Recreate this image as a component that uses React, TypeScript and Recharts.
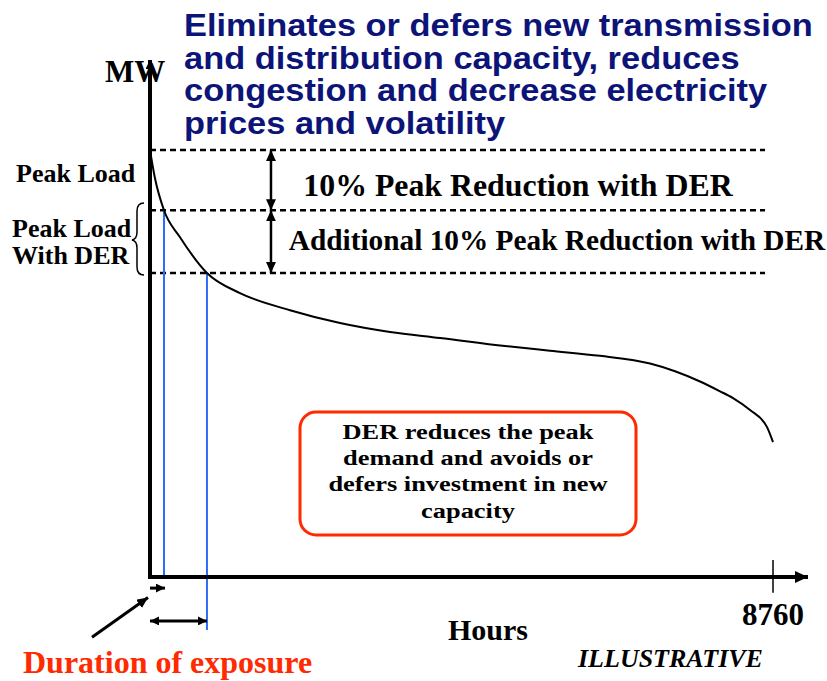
import React from "react";
import { LineChart, Line, XAxis, YAxis, ReferenceLine } from "recharts";

// ---- data (hours vs MW, illustrative load duration curve) ----
const hours = [0, 70, 197, 422, 801, 1265, 1969, 2672, 3375, 4078, 4992, 5624, 6327, 7031, 7382, 7734, 8015, 8198, 8437, 8676, 8760];
const loadMW = [100, 93.4, 85.9, 79.6, 71.2, 66.5, 62.5, 59.5, 57.4, 56.0, 54.1, 53.0, 51.8, 50.0, 48.2, 45.8, 43.5, 41.9, 39.1, 35.1, 31.6];
const levelMW = [100, 85.9, 71.2]; // peak load, peak with 10% DER, with additional 10%
const exposureHours = [197, 801];
const xTicks = [8760];
const titleLines = [
  "Eliminates or defers new transmission",
  "and distribution capacity, reduces",
  "congestion and decrease electricity",
  "prices and volatility",
];
const boxLines = ["DER reduces the peak", "demand and avoids or", "defers investment in new", "capacity"];

const X_MAX = 9252;
const Y_MAX = 121.1;
const DASH_END = 8648;
const ARROW_X = 1701;

const data = hours.map((h, i) => ({ h, mw: loadMW[i] }));

const SERIF = "'Liberation Serif', 'Times New Roman', serif";
const SANS = "'Liberation Sans', Arial, sans-serif";
const NAVY = "#0c1478";
const RED = "#ff2a00";
const BLUE = "#2d6cf5";

const seg = (mStart?: string, mEnd?: string) => (p: any) => (
  <line
    x1={p.x1}
    y1={p.y1}
    x2={p.x2}
    y2={p.y2}
    stroke={p.stroke}
    strokeWidth={p.strokeWidth}
    strokeDasharray={p.strokeDasharray}
    markerStart={mStart}
    markerEnd={mEnd}
  />
);

function T(props: {
  x: number; y: number; size: number; sx?: number; anchor?: "start" | "middle" | "end";
  family?: string; italic?: boolean; fill?: string; children: React.ReactNode;
}) {
  const { x, y, size, sx = 1, anchor = "start", family = SERIF, italic, fill = "#000", children } = props;
  return (
    <text
      transform={`translate(${x},${y}) scale(${sx},1)`}
      textAnchor={anchor}
      fontSize={size}
      fontFamily={family}
      fontWeight="bold"
      fontStyle={italic ? "italic" : "normal"}
      fill={fill}
    >
      {children}
    </text>
  );
}

const XTick = (p: any) => (
  <text x={p.x} y={p.y + 40} textAnchor="middle" fontSize={31} fontFamily={SERIF} fontWeight="bold" fill="#000">
    {p.payload.value}
  </text>
);

export default function App() {
  return (
    <div style={{ position: "absolute", left: 0, top: 0, width: 827, height: 681, background: "#fff" }}>
      <svg width={0} height={0} style={{ position: "absolute" }}>
        <defs>
          <marker id="arrL" viewBox="0 0 13 12" refX={13} refY={6} markerWidth={13} markerHeight={12} markerUnits="userSpaceOnUse" orient="auto-start-reverse">
            <path d="M0,0 L13,6 L0,12 z" fill="#000" />
          </marker>
          <marker id="arrM" viewBox="0 0 11 10" refX={11} refY={5} markerWidth={11} markerHeight={10} markerUnits="userSpaceOnUse" orient="auto-start-reverse">
            <path d="M0,0 L11,5 L0,10 z" fill="#000" />
          </marker>
          <marker id="arrS" viewBox="0 0 9 9" refX={9} refY={4.5} markerWidth={9} markerHeight={9} markerUnits="userSpaceOnUse" orient="auto-start-reverse">
            <path d="M0,0 L9,4.5 L0,9 z" fill="#000" />
          </marker>
        </defs>
      </svg>
      <LineChart width={827} height={681} data={data} margin={{ top: 60, right: 19, bottom: 74, left: 150 }}>
        <XAxis
          type="number"
          dataKey="h"
          domain={[0, X_MAX]}
          ticks={xTicks}
          axisLine={false}
          tickLine={false}
          height={30}
          tick={XTick}
          allowDataOverflow
        />
        <YAxis type="number" domain={[0, Y_MAX]} hide allowDataOverflow />
        {/* dashed level lines */}
        {levelMW.map((v) => (
          <ReferenceLine key={v} segment={[{ x: 0, y: v }, { x: DASH_END, y: v }]} stroke="#000" strokeWidth={2.5} strokeDasharray="6 4" ifOverflow="visible" />
        ))}
        {/* vertical double arrows */}
        <ReferenceLine segment={[{ x: ARROW_X, y: levelMW[0] }, { x: ARROW_X, y: levelMW[1] }]} stroke="#000" strokeWidth={2.5} ifOverflow="visible" shape={seg("url(#arrM)", "url(#arrM)")} />
        <ReferenceLine segment={[{ x: ARROW_X, y: levelMW[1] }, { x: ARROW_X, y: levelMW[2] }]} stroke="#000" strokeWidth={2.5} ifOverflow="visible" shape={seg("url(#arrM)", "url(#arrM)")} />
        {/* blue exposure lines */}
        <ReferenceLine segment={[{ x: exposureHours[0], y: levelMW[1] }, { x: exposureHours[0], y: 0 }]} stroke={BLUE} strokeWidth={2} ifOverflow="visible" />
        <ReferenceLine segment={[{ x: exposureHours[1], y: levelMW[2] }, { x: exposureHours[1], y: -12.4 }]} stroke={BLUE} strokeWidth={2} ifOverflow="visible" />
        {/* duration arrows */}
        <ReferenceLine segment={[{ x: 0, y: -2.6 }, { x: exposureHours[0] + 14, y: -2.6 }]} stroke="#000" strokeWidth={3} ifOverflow="visible" shape={seg(undefined, "url(#arrS)")} />
        <ReferenceLine segment={[{ x: 0, y: -10.3 }, { x: exposureHours[1], y: -10.3 }]} stroke="#000" strokeWidth={3} ifOverflow="visible" shape={seg("url(#arrS)", "url(#arrS)")} />
        <ReferenceLine segment={[{ x: -816, y: -14.1 }, { x: -28, y: -4.8 }]} stroke="#000" strokeWidth={3} ifOverflow="visible" shape={seg(undefined, "url(#arrM)")} />
        {/* tick at 8760 */}
        <ReferenceLine segment={[{ x: xTicks[0], y: 4 }, { x: xTicks[0], y: -3.7 }]} stroke="#000" strokeWidth={1.5} ifOverflow="visible" />
        {/* axes */}
        <ReferenceLine segment={[{ x: -28, y: 0 }, { x: X_MAX, y: 0 }]} stroke="#000" strokeWidth={4} ifOverflow="visible" shape={seg(undefined, "url(#arrL)")} />
        <ReferenceLine segment={[{ x: 0, y: -0.4 }, { x: 0, y: Y_MAX }]} stroke="#000" strokeWidth={4} ifOverflow="visible" shape={seg(undefined, "url(#arrS)")} />
        <Line type="monotone" dataKey="mw" stroke="#000" strokeWidth={2} dot={false} isAnimationActive={false} />
      </LineChart>
      <svg width={827} height={681} style={{ position: "absolute", left: 0, top: 0, pointerEvents: "none" }}>
        {titleLines.map((t, i) => (
          <T key={t} x={184} y={36 + i * 32.5} size={31} sx={1.11} family={SANS} fill={NAVY}>{t}</T>
        ))}
        <T x={105} y={82} size={31}>MW</T>
        <T x={16} y={182} size={26}>Peak Load</T>
        <T x={12} y={237} size={26}>Peak Load</T>
        <T x={12} y={264} size={26}>With DER</T>
        <path d="M144,203 Q137,203 137,211 L137,232 Q137,239 132,240 Q137,241 137,248 L137,267 Q137,275 144,275" fill="none" stroke="#000" strokeWidth={1.5} />
        <T x={518} y={196} size={31.8} anchor="middle">10% Peak Reduction with DER</T>
        <T x={557} y={250} size={29.3} anchor="middle">Additional 10% Peak Reduction with DER</T>
        <rect x={300} y={412} width={336} height={123} rx={16} fill="none" stroke={RED} strokeWidth={3} />
        {boxLines.map((t, i) => (
          <T key={t} x={468} y={439 + i * 26.2} size={22} sx={1.2} anchor="middle">{t}</T>
        ))}
        <T x={488} y={640} size={30} anchor="middle">Hours</T>
        <T x={578} y={667} size={26} italic>ILLUSTRATIVE</T>
        <T x={23} y={673} size={32} fill={RED}>Duration of exposure</T>
      </svg>
    </div>
  );
}
